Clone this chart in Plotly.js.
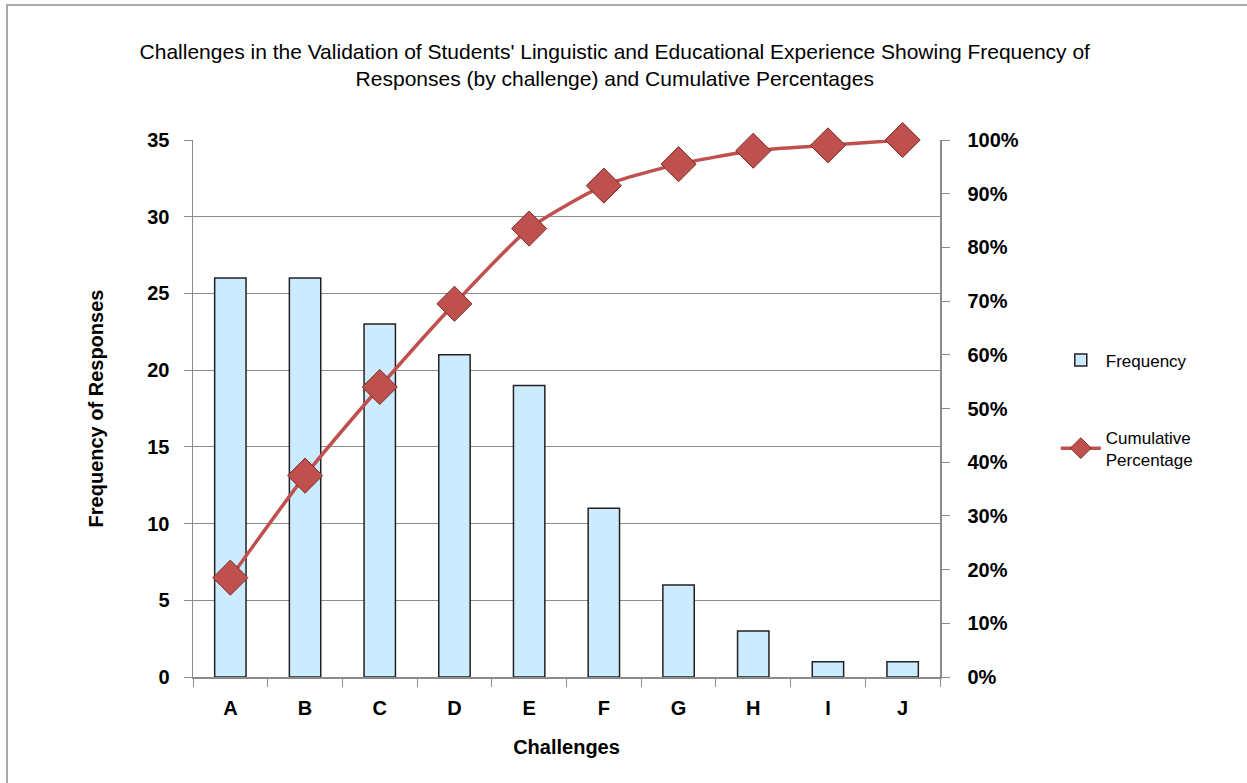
<!DOCTYPE html>
<html>
<head>
<meta charset="utf-8">
<script src="https://cdn.plot.ly/plotly-3.0.1.min.js"></script>
<style>
  html, body { margin: 0; padding: 0; background: #fff; overflow: hidden; }
  #chart { position: absolute; left: 0; top: 0; width: 1247px; height: 783px; }
  #frame { position: absolute; left: 6px; top: 4px; width: 1400px; height: 900px;
           border-top: 2px solid #a8a8a8; border-left: 2px solid #a8a8a8; pointer-events: none; }
</style>
</head>
<body>
<div id="chart"></div>
<div id="frame"></div>
<script>
const challenges = ['A', 'B', 'C', 'D', 'E', 'F', 'G', 'H', 'I', 'J'];
const frequency = [26, 26, 23, 21, 19, 11, 6, 3, 1, 1];
const cumulativePct = [0.185, 0.375, 0.54, 0.695, 0.835, 0.915, 0.955, 0.98, 0.99, 1.0];

const font = 'Liberation Sans, Arial, sans-serif';

const traces = [
  {
    type: 'bar',
    name: 'Frequency',
    legendgroup: 'f',
    x: challenges,
    y: frequency,
    width: 0.42,
    marker: { color: '#CCEBFF', line: { color: '#222222', width: 1.5 } },
    yaxis: 'y',
    hoverinfo: 'x+y'
  },
  {
    type: 'scatter',
    mode: 'lines+markers',
    name: 'Cumulative<br>Percentage',
    legendgroup: 'c',
    x: challenges,
    y: cumulativePct,
    yaxis: 'y2',
    cliponaxis: false,
    line: { color: '#C0504D', width: 3.5, shape: 'spline', smoothing: 0.6 },
    marker: { symbol: 'diamond', size: 27, color: '#C0504D', line: { color: '#7a2e2c', width: 1 } }
  }
];

const layout = {
  width: 1247,
  height: 783,
  paper_bgcolor: '#ffffff',
  plot_bgcolor: '#ffffff',
  margin: { l: 193, r: 307, t: 140, b: 106 },
  font: { family: font, color: '#000000' },
  title: {
    text: "Challenges in the Validation of Students' Linguistic and Educational Experience Showing Frequency of<br>Responses (by challenge) and Cumulative Percentages",
    font: { family: font, size: 21, color: '#000' },
    x: 0.493, xanchor: 'center',
    y: 0.925, yanchor: 'middle'
  },
  xaxis: {
    type: 'category',
    range: [-0.5, 9.5],
    autorange: false,
    tickson: 'boundaries',
    ticks: 'outside',
    ticklen: 8,
    tickcolor: '#8c8c8c',
    showline: true,
    linecolor: '#8c8c8c',
    linewidth: 1.5,
    showgrid: false,
    ticklabelstandoff: 12,
    tickfont: { family: font, size: 20, color: '#000', weight: 'bold' },
    title: { text: 'Challenges', font: { family: font, size: 20, color: '#000', weight: 'bold' }, standoff: 22 }
  },
  yaxis: {
    range: [0, 35],
    autorange: false,
    dtick: 5,
    tick0: 0,
    ticks: 'outside',
    ticklen: 8,
    tickcolor: '#8c8c8c',
    showline: true,
    linecolor: '#8c8c8c',
    linewidth: 1.5,
    showgrid: true,
    gridcolor: '#8c8c8c',
    gridwidth: 1,
    zeroline: false,
    ticklabelstandoff: 10,
    tickfont: { family: font, size: 20, color: '#000', weight: 'bold' },
    title: { text: 'Frequency of Responses', font: { family: font, size: 20, color: '#000', weight: 'bold' }, standoff: 38 }
  },
  yaxis2: {
    overlaying: 'y',
    side: 'right',
    range: [0, 1],
    autorange: false,
    dtick: 0.1,
    tick0: 0,
    tickformat: '.0%',
    ticks: 'outside',
    ticklen: 8,
    tickcolor: '#8c8c8c',
    showline: true,
    linecolor: '#8c8c8c',
    linewidth: 1.5,
    showgrid: false,
    zeroline: false,
    ticklabelstandoff: 14,
    tickfont: { family: font, size: 20, color: '#000', weight: 'bold' }
  },
  showlegend: true,
  legend: {
    x: 1.155, xanchor: 'left',
    y: 0.623, yanchor: 'top',
    font: { family: font, size: 17, color: '#000' },
    traceorder: 'grouped',
    tracegroupgap: 52,
    itemwidth: 40,
    bgcolor: 'rgba(0,0,0,0)'
  },
  bargap: 0.58
};

Plotly.newPlot('chart', traces, layout, { displayModeBar: false, staticPlot: true });
</script>
</body>
</html>
